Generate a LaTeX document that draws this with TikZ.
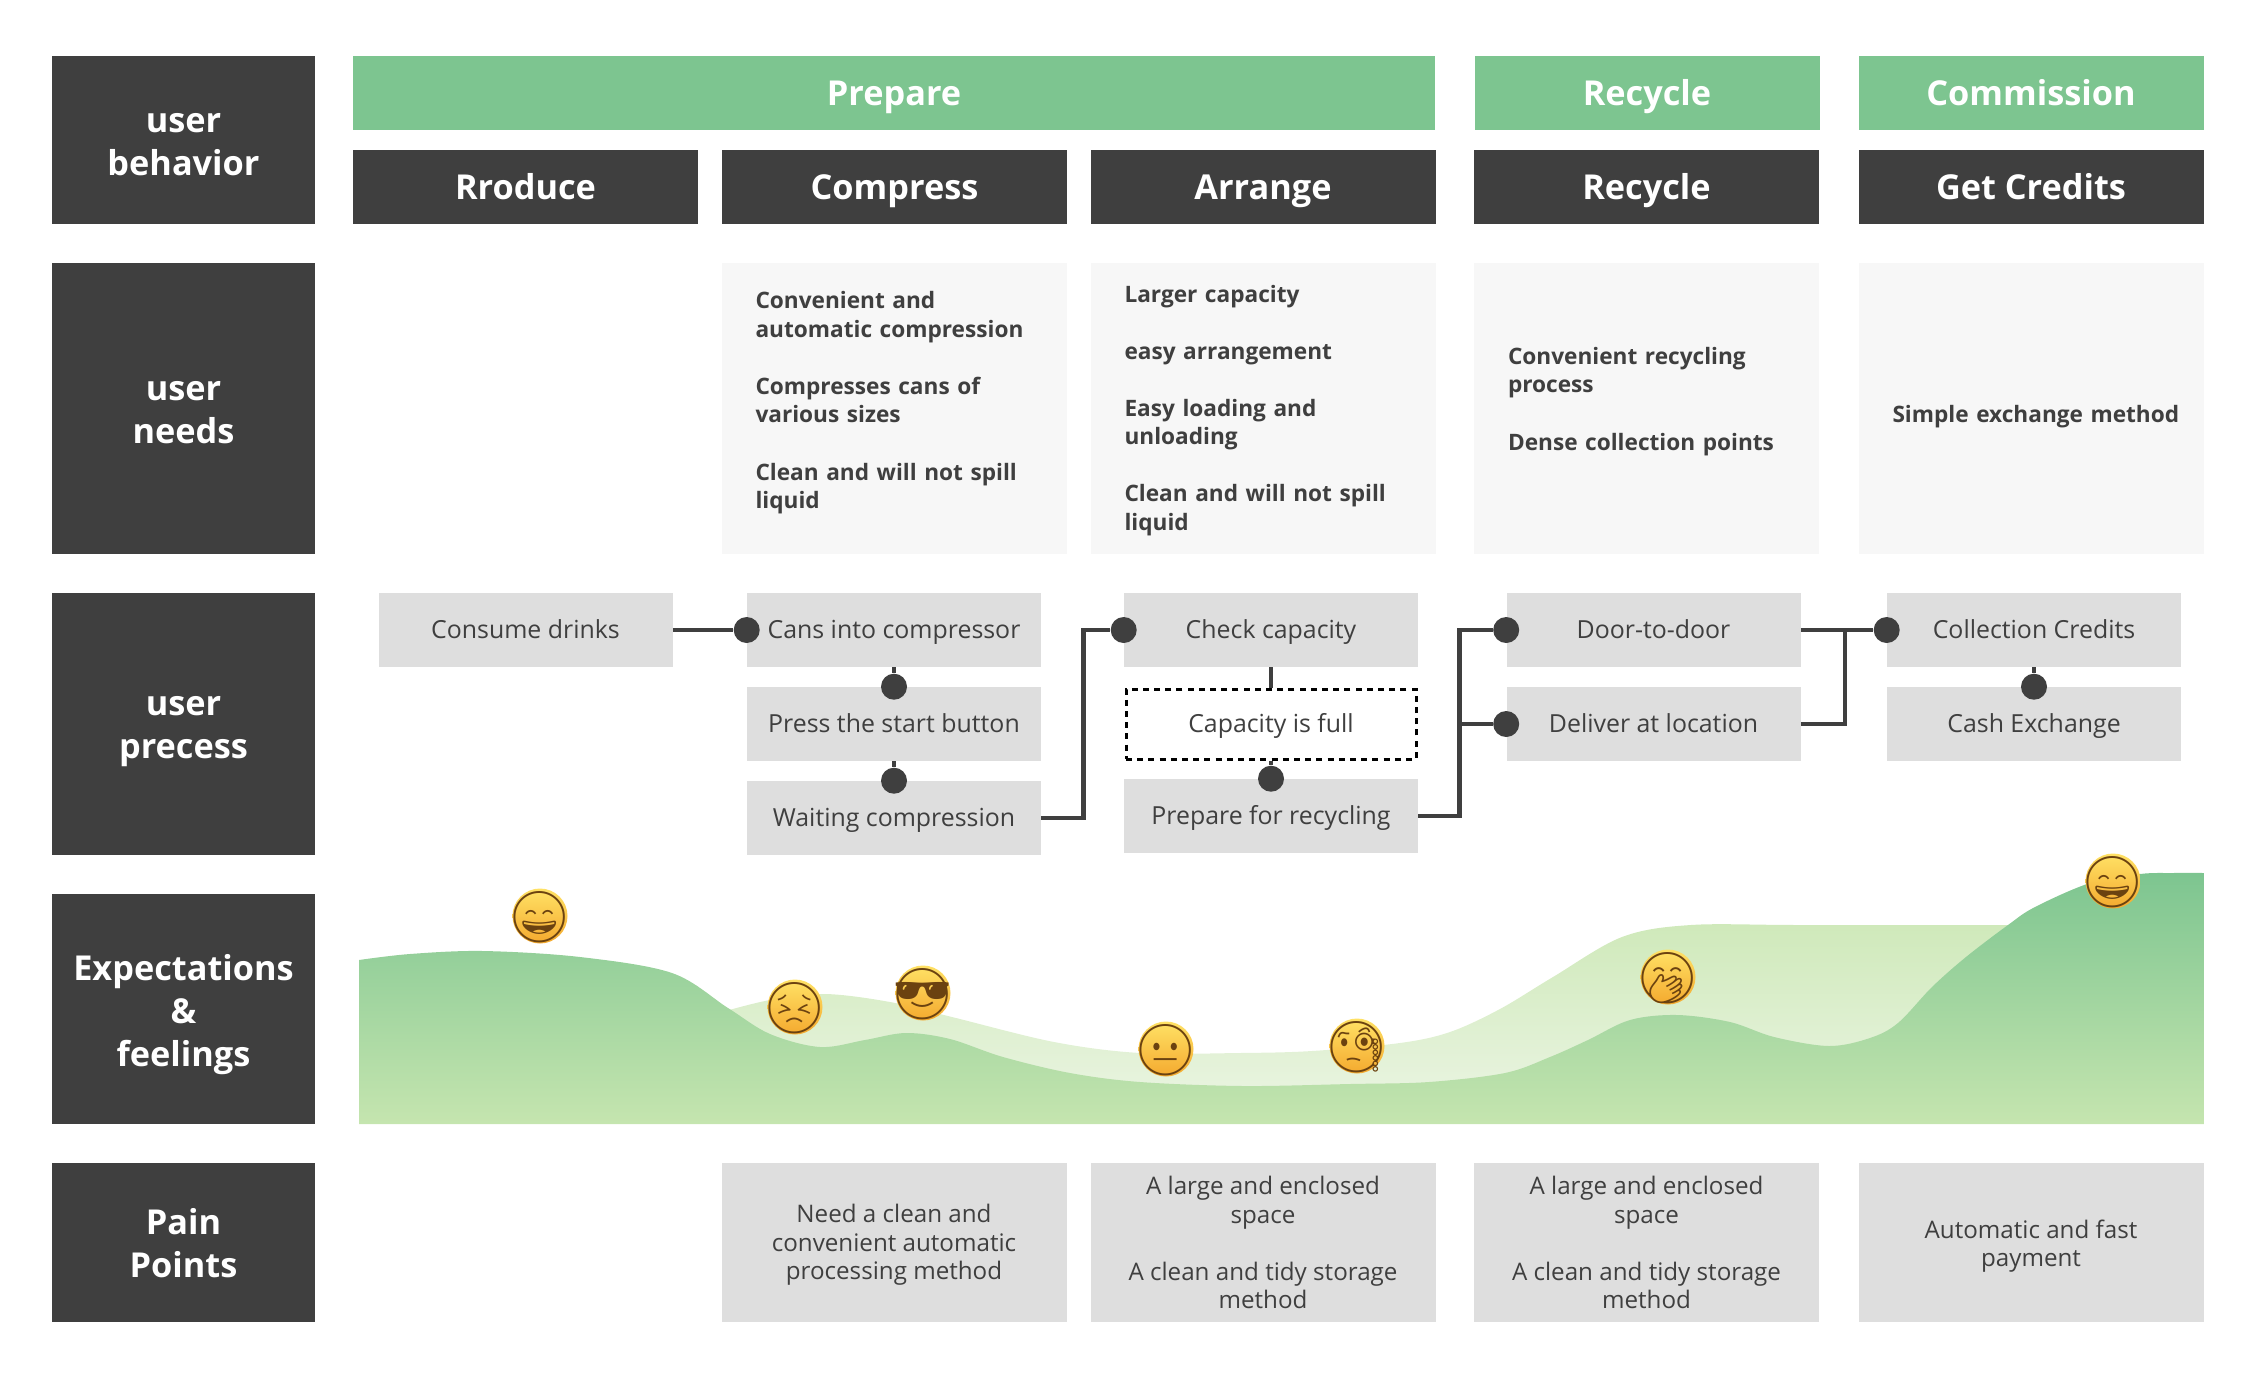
\documentclass[tikz,border=0pt]{standalone}
\usepackage{fontspec}
\setmainfont{Open Sans}
\newfontfamily\emojifont{Noto Emoji}
\usepackage{xcolor}
\usepackage{tikz}
\usetikzlibrary{shadings}
\definecolor{boxdark}{HTML}{3F3F3F}
\definecolor{boxgreen}{HTML}{7DC590}
\definecolor{boxgray}{HTML}{DEDEDE}
\definecolor{boxlight}{HTML}{F7F7F7}
\definecolor{lighttop}{HTML}{CFE9BA}
\definecolor{lightbot}{HTML}{EBF5E3}
\definecolor{darkbot}{HTML}{C5E5AF}
\definecolor{facetop}{HTML}{FFE265}
\definecolor{facebot}{HTML}{F4A92F}
\definecolor{faceink}{HTML}{6B4210}
\newcommand{\fhead}{\fontsize{24.4}{30.6}\selectfont}
\newcommand{\fbody}{\fontsize{17.2}{20.3}\selectfont}
\newcommand{\fact}{\fontsize{17.7}{20.3}\selectfont}
\newcommand{\fneed}{\fontsize{16.1}{20.3}\selectfont}
\newcommand{\faceglyph}[1]{\smash{\makebox[0pt]{\raisebox{-0.36em}{#1}}}}
\newcommand{\ptop}[1]{\rule{0pt}{#1}}
\newcommand{\pbot}[1]{\rule[-#1]{0pt}{0pt}}
\tikzset{
  fx/.style={x=0.25mm, y=-0.25mm},
  p box/.style={inner sep=0pt, align=center, minimum width=86.25mm, minimum height=18.5mm},
  p side/.style={p box, fill=boxdark, text=white, font=\fhead\bfseries, minimum width=65.75mm},
  p stage/.style={p box, fill=boxgreen, text=white, font=\fhead\bfseries, text height=23pt, text depth=5.4pt},
  p step/.style={p box, fill=boxdark, text=white, font=\fhead\bfseries, text height=23pt, text depth=5.4pt},
  p need/.style={p box, fill=boxlight, text=boxdark, font=\fneed\bfseries, align=left, minimum height=72.75mm, text width=86.25mm, execute at begin node={\leftskip=8.5mm}},
  p act/.style={p box, fill=boxgray, text=boxdark, font=\fact, minimum width=73.5mm, text height=16pt, text depth=3.9pt},
  p full/.style={p act, fill=white, draw=black, line width=0.75mm, dash pattern=on 1.5mm off 1.3mm, minimum width=72.5mm, minimum height=17.5mm},
  p pain/.style={p box, fill=boxgray, text=boxdark, font=\fbody, minimum height=39.75mm},
  p dot/.style={circle, fill=boxdark, inner sep=0pt, minimum size=6.5mm},
  p line/.style={draw=boxdark, line width=1.15mm},
  p face/.style={circle, inner sep=0pt, minimum size=13.75mm, top color=facetop, bottom color=facebot, text=faceink, font=\fontsize{36}{36}\selectfont\emojifont},
}
\begin{document}
\begin{tikzpicture}[fx]
\useasboundingbox (0,0) rectangle (2262,1382);
% left column
\node[p side, minimum height=42mm] (sbeh) at (183.5,140) {\ptop{19.8pt}user\\behavior};
\node[p side, minimum height=72.75mm] (sneed) at (183.5,408.5) {\ptop{18.8pt}user\\needs};
\node[p side, minimum height=65.5mm] (sproc) at (183.5,724) {\ptop{24.8pt}user\\precess};
\node[p side, minimum height=57.5mm] (sfeel) at (183.5,1009) {\ptop{20.8pt}Expectations\\\&\\\smash{feelings}};
\node[p side, minimum height=39.75mm] (spain) at (183.5,1242.5) {\ptop{18.8pt}Pain\\Points};
% stages
\node[p stage, minimum width=270.5mm] (gprep) at (894,93) {Prepare};
\node[p stage] (grec) at (1647,93) {Recycle};
\node[p stage] (gcom) at (2031,93) {Commission};
\node[p step] (srod) at (525.5,187) {Rroduce};
\node[p step] (scom) at (894.5,187) {Compress};
\node[p step] (sarr) at (1263,187) {Arrange};
\node[p step] (srec) at (1646.5,187) {Recycle};
\node[p step] (scre) at (2031,187) {Get Credits};
% needs
\node[p need] (ncom) at (894,408.5) {Convenient and\\automatic compression\\[20.3pt]Compresses cans of\\various sizes\\[20.3pt]Clean and will not spill\\liquid\pbot{12pt}};
\node[p need] (narr) at (1263,408.5) {\ptop{15pt}Larger capacity\\[20.3pt]easy arrangement\\[20.3pt]Easy loading and\\unloading\\[20.3pt]Clean and will not spill\\liquid};
\node[p need] (nrec) at (1646.5,408.5) {Convenient recycling\\process\\[20.3pt]Dense collection points\pbot{14pt}};
\node[p need] (ncre) at (2031,408.5) {\ptop{24pt}Simple exchange method};
% process
\node[p act] (drink) at (525.5,630) {Consume drinks};
\node[p act] (cans) at (894,630) {Cans into compressor};
\node[p act] (press) at (894,724) {Press the start button};
\node[p act] (wait) at (894,818) {Waiting compression};
\node[p act] (check) at (1271,630) {Check capacity};
\node[p full] (full) at (1271,724) {Capacity is full};
\node[p act] (prep) at (1271,816) {Prepare for recycling};
\node[p act] (door) at (1653.5,630) {Door-to-door};
\node[p act] (deliv) at (1653.5,724) {Deliver at location};
\node[p act] (coll) at (2034,630) {Collection Credits};
\node[p act] (cash) at (2034,724) {Cash Exchange};
\node[p dot] (dcans) at (cans.west) {};
\node[p dot] (dpress) at (press.north) {};
\node[p dot] (dwait) at (wait.north) {};
\node[p dot] (dcheck) at (check.west) {};
\node[p dot] (dprep) at (prep.north) {};
\node[p dot] (ddoor) at (door.west) {};
\node[p dot] (ddeliv) at (deliv.west) {};
\node[p dot] (dcoll) at (coll.west) {};
\node[p dot] (dcash) at (cash.north) {};
\draw[p line] (drink) -- (dcans);
\draw[p line] (cans) -- (dpress);
\draw[p line] (press) -- (dwait);
\draw[p line] (wait.east) -- ++(42,0) |- (dcheck);
\draw[p line] (check) -- (full);
\draw[p line] (full) -- (dprep);
\draw[p line] (coll) -- (dcash);
\draw[p line] (prep.east) -- ++(41,0) |- (ddoor);
\draw[p line] (prep.east) -- ++(41,0) |- (ddeliv);
\draw[p line] (door) -- (dcoll);
\draw[p line] (deliv.east) -- ++(44,0) |- (dcoll);
% curves
\shade[top color=lighttop, bottom color=lightbot]
  plot[smooth, tension=0.55] coordinates {(722,1012) (770,1000) (825,994) (890,1002) (952,1017) (1054,1042) (1140,1053) (1240,1053) (1312,1051) (1400,1043) (1450,1032) (1500,1009) (1553,977) (1622,937) (1691,925) (1800,925) (2008,925) (2060,925)}
  -- (2060,1110) -- (722,1110) -- cycle;
\shade[top color=boxgreen, bottom color=darkbot]
  plot[smooth, tension=0.55] coordinates {(359,960) (410,954) (483,951) (580,957) (672,973) (728,1008) (770,1034) (820,1047) (865,1040) (906,1033) (950,1039) (1003,1057) (1070,1073) (1140,1082) (1243,1086) (1350,1084) (1429,1082) (1505,1073) (1550,1057) (1588,1040) (1630,1020) (1677,1015) (1730,1022) (1774,1037) (1829,1046) (1870,1038) (1898,1023) (1932,987) (1966,957) (2008,925) (2035,907) (2090,883) (2140,874) (2173,873) (2204,873)}
  -- (2204,1124) -- (359,1124) -- cycle;
% faces
\node[p face] (fa) at (540,916) {\faceglyph{😄}};
\node[p face] (fb) at (795,1007) {\faceglyph{😣}};
\node[p face] (fc) at (923,993) {\faceglyph{😎}};
\node[p face] (fd) at (1166,1049) {\faceglyph{😐}};
\node[p face] (fe) at (1357,1046) {\faceglyph{🧐}};
\node[p face] (ff) at (1668,977) {\faceglyph{🤭}};
\node[p face] (fg) at (2113,881) {\faceglyph{😄}};
% pain points
\node[p pain] (pcom) at (894,1242.5) {\ptop{16.8pt}Need a clean and\\convenient automatic\\processing method};
\node[p pain] (parr) at (1263,1242.5) {A large and enclosed\\space\\[20.3pt]A clean and tidy storage\\method};
\node[p pain] (prec) at (1646.5,1242.5) {A large and enclosed\\space\\[20.3pt]A clean and tidy storage\\method};
\node[p pain] (pcre) at (2031,1242.5) {\ptop{18.5pt}Automatic and fast\\payment};
\end{tikzpicture}
\end{document}
